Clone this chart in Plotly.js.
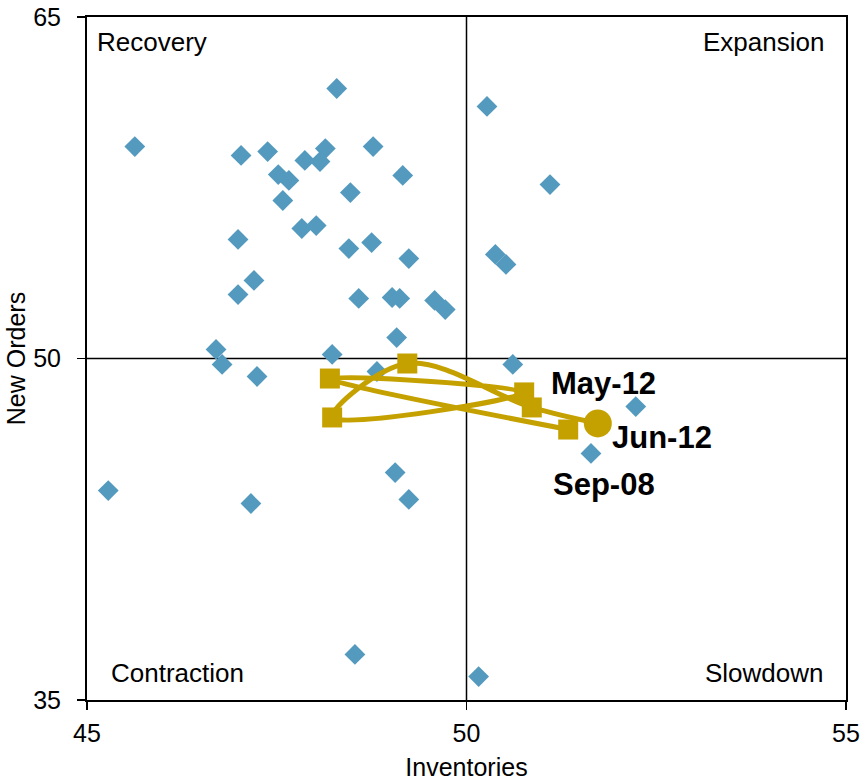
<!DOCTYPE html>
<html>
<head>
<meta charset="utf-8">
<script src="https://cdn.plot.ly/plotly-3.0.1.min.js"></script>
<style>html,body{margin:0;padding:0;background:#fff;}#chart{width:861px;height:781px;}</style>
</head>
<body>
<div id="chart"></div>
<script>
// Historical monthly readings (diamonds)
const histInventories = [48.29, 50.27, 45.63, 47.03, 47.38, 47.87, 48.14, 48.07, 48.77, 47.52,
  47.66, 49.16, 48.47, 51.10, 47.58, 47.83, 48.02, 46.99, 48.45, 48.75,
  49.24, 50.38, 50.52, 47.20, 46.99, 48.58, 49.02, 49.12, 49.58, 49.72,
  49.08, 46.70, 46.78, 48.23, 50.61, 48.82, 47.24, 52.23, 51.64, 49.06,
  49.24, 45.28, 47.16, 48.53, 50.16];
const histNewOrders = [61.86, 61.07, 59.31, 58.92, 59.09, 58.70, 59.22, 58.65, 59.31, 58.08,
  57.82, 58.04, 57.29, 57.64, 56.94, 55.71, 55.84, 55.23, 54.83, 55.09,
  54.39, 54.57, 54.13, 53.43, 52.81, 52.64, 52.68, 52.64, 52.55, 52.15,
  50.92, 50.40, 49.74, 50.18, 49.74, 49.43, 49.21, 47.89, 45.83, 44.99,
  43.81, 44.20, 43.63, 37.00, 36.03];

// Recent path (Dec-11 .. Jun-12)
const recentMonths = ["Dec-11", "Jan-12", "Feb-12", "Mar-12", "Apr-12", "May-12", "Jun-12"];
const recentInventories = [51.34, 48.20, 50.76, 48.23, 49.22, 50.86, 51.73];
const recentNewOrders = [46.88, 49.12, 48.51, 47.41, 49.78, 47.85, 47.15];

const xTicks = [45, 50, 55];
const yTicks = [35, 50, 65];

const blue = "rgb(84,154,191)";
const gold = "rgb(197,161,0)";
const font = "Liberation Sans, Arial, sans-serif";

const n = recentMonths.length;
const traces = [
  {
    x: histInventories, y: histNewOrders, type: "scatter", mode: "markers",
    marker: {symbol: "diamond", size: 16, color: blue},
    hoverinfo: "x+y"
  },
  {
    x: recentInventories, y: recentNewOrders, text: recentMonths, type: "scatter", mode: "lines",
    line: {color: gold, width: 5, shape: "spline", smoothing: 1},
    hoverinfo: "text+x+y"
  },
  {
    x: recentInventories.slice(0, n - 1), y: recentNewOrders.slice(0, n - 1), type: "scatter", mode: "markers",
    marker: {symbol: "square", size: 20, color: gold},
    hoverinfo: "x+y"
  },
  {
    x: recentInventories.slice(n - 1), y: recentNewOrders.slice(n - 1), type: "scatter", mode: "markers",
    marker: {symbol: "circle", size: 28, color: gold},
    hoverinfo: "x+y"
  }
];

const quadFont = {family: font, size: 26, color: "#000"};
const tagFont = {family: font, size: 31, color: "#000", weight: "bold"};

const layout = {
  width: 861, height: 781,
  margin: {l: 87, r: 15, t: 17, b: 81},
  paper_bgcolor: "#fff", plot_bgcolor: "#fff",
  showlegend: false,
  font: {family: font, size: 26, color: "#000"},
  xaxis: {
    range: [45, 55], tickvals: xTicks, ticktext: xTicks.map(String),
    showgrid: false, zeroline: false, showline: true, linecolor: "#000", linewidth: 2, mirror: true,
    ticks: "outside", ticklen: 8, tickcolor: "#000", tickwidth: 1.5, ticklabelstandoff: 2,
    tickfont: {family: font, size: 25, color: "#000"},
    title: {text: "Inventories", font: {family: font, size: 25, color: "#000"}, standoff: 12}
  },
  yaxis: {
    range: [35, 65], tickvals: yTicks, ticktext: yTicks.map(String),
    showgrid: false, zeroline: false, showline: true, linecolor: "#000", linewidth: 2, mirror: true,
    ticks: "outside", ticklen: 8, tickcolor: "#000", tickwidth: 1.5, ticklabelstandoff: 11,
    tickfont: {family: font, size: 25, color: "#000"},
    title: {text: "New Orders", font: {family: font, size: 25, color: "#000"}, standoff: 0}
  },
  shapes: [
    {type: "line", xref: "x", yref: "paper", x0: 50, x1: 50, y0: 0, y1: 1, line: {color: "#000", width: 1.5}, layer: "below"},
    {type: "line", xref: "paper", yref: "y", x0: 0, x1: 1, y0: 50, y1: 50, line: {color: "#000", width: 1.5}, layer: "below"}
  ],
  annotations: [
    {xref: "paper", yref: "paper", x: 0.011, y: 0.963, text: "Recovery", showarrow: false, xanchor: "left", yanchor: "middle", font: quadFont},
    {xref: "paper", yref: "paper", x: 0.973, y: 0.963, text: "Expansion", showarrow: false, xanchor: "right", yanchor: "middle", font: quadFont},
    {xref: "paper", yref: "paper", x: 0.029, y: 0.039, text: "Contraction", showarrow: false, xanchor: "left", yanchor: "middle", font: quadFont},
    {xref: "paper", yref: "paper", x: 0.973, y: 0.039, text: "Slowdown", showarrow: false, xanchor: "right", yanchor: "middle", font: quadFont},
    {xref: "x", yref: "y", x: 51.09, y: 48.90, text: "<b>May-12</b>", showarrow: false, xanchor: "left", yanchor: "middle", font: tagFont},
    {xref: "x", yref: "y", x: 51.89, y: 46.53, text: "<b>Jun-12</b>", showarrow: false, xanchor: "left", yanchor: "middle", font: tagFont},
    {xref: "x", yref: "y", x: 51.11, y: 44.47, text: "<b>Sep-08</b>", showarrow: false, xanchor: "left", yanchor: "middle", font: tagFont}
  ]
};

Plotly.newPlot("chart", traces, layout, {displayModeBar: false, staticPlot: true});
</script>
</body>
</html>
